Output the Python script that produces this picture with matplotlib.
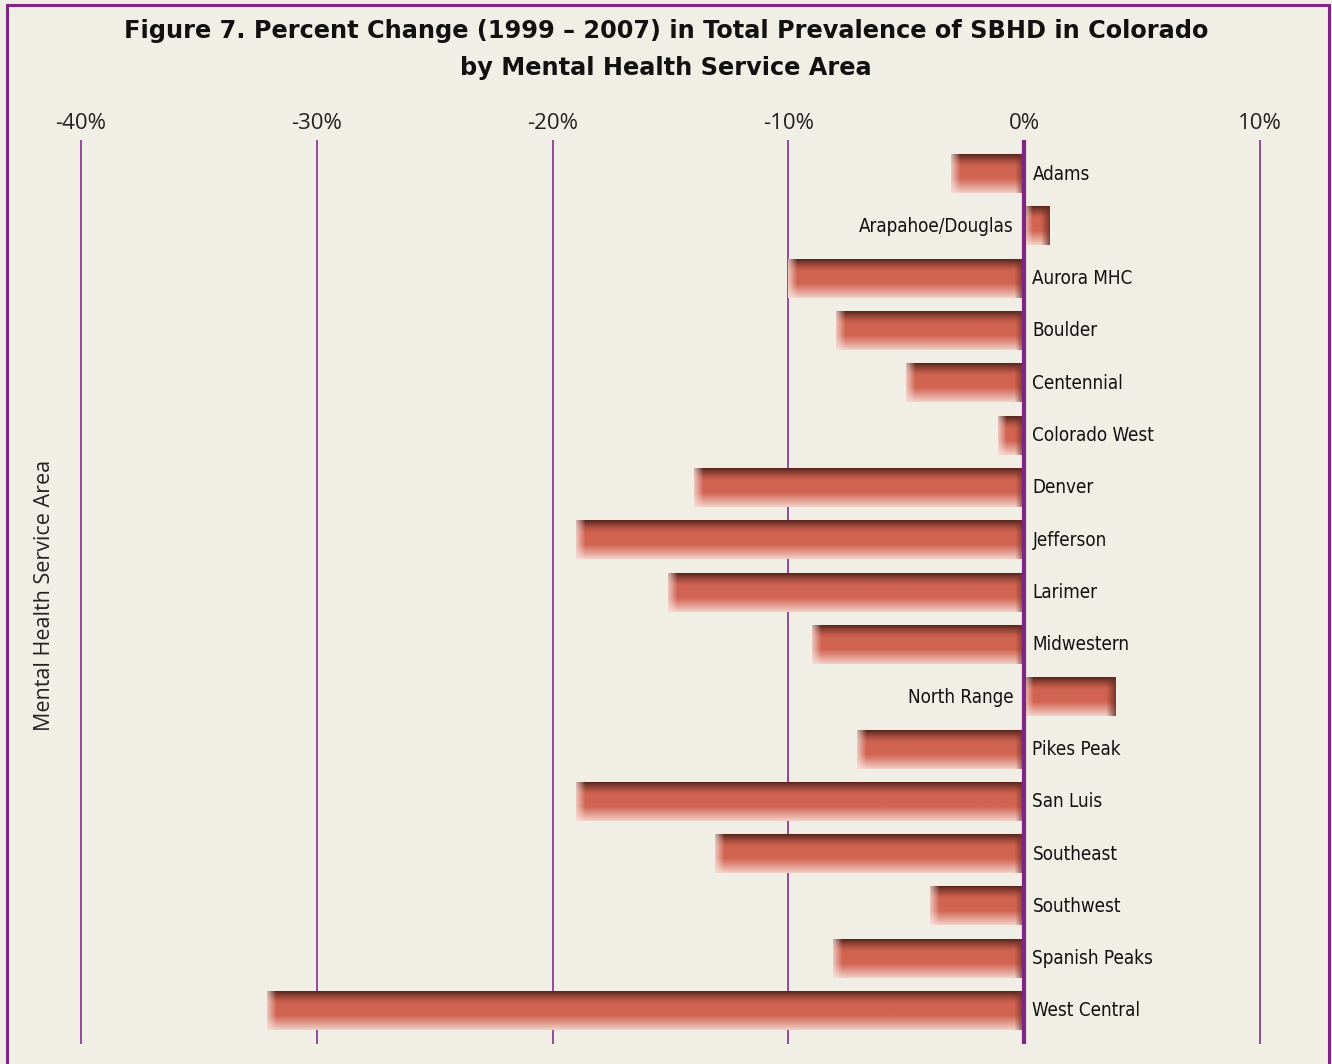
import numpy as np
import matplotlib
matplotlib.use("Agg")
import matplotlib.pyplot as plt
from matplotlib.patches import Rectangle
from matplotlib.colors import to_rgb

areas = ["Adams", "Arapahoe/Douglas", "Aurora MHC", "Boulder", "Centennial",
         "Colorado West", "Denver", "Jefferson", "Larimer", "Midwestern",
         "North Range", "Pikes Peak", "San Luis", "Southeast", "Southwest",
         "Spanish Peaks", "West Central"]
pct_change = [-3.1, 1.1, -10.0, -8.0, -5.0, -1.1, -14.0, -19.0, -15.1, -9.0,
              3.9, -7.1, -19.0, -13.1, -4.0, -8.1, -32.1]
tick_values = [-40, -30, -20, -10, 0, 10]
tick_labels = ["-40%", "-30%", "-20%", "-10%", "0%", "10%"]

BG = "#f1eee6"
PURPLE = "#7d2683"
GRID = "#8e3d92"

fig = plt.figure(figsize=(13.32, 10.64), dpi=100, facecolor=BG)
ax = fig.add_axes([40 / 1332, 1 - 1044 / 1064, 1260 / 1332, 904 / 1064])
ax.set_facecolor(BG)

px_per_unit = (1260 - 81) / 50.0
ax.set_xlim(-40 - (81 - 40) / px_per_unit, 10 + (1300 - 1260) / px_per_unit)
ax.set_ylim(16 + (1044 - 1011) / 52.3, -(174 - 140) / 52.3)

for s in ax.spines.values():
    s.set_visible(False)
ax.set_yticks([])
ax.xaxis.tick_top()
ax.set_xticks(tick_values)
ax.set_xticklabels(tick_labels, fontsize=16, color="#222222", family="Open Sans")
ax.tick_params(axis="x", length=0, pad=4)

for t in tick_values:
    if t == 0:
        continue
    ax.axvline(t, color=GRID, lw=1.3, zorder=1)


def bevel_image(ncols, nrows=40, edge=9):
    dark = np.array(to_rgb("#5a261e"))
    mid = np.array(to_rgb("#d16351"))
    light = np.array(to_rgb("#f2cfc6"))
    y = np.linspace(0, 1, nrows)[:, None]
    # vertical profile: dark top, red middle, pale bottom
    w_dark = np.clip(1 - y / 0.32, 0, 1) ** 1.4
    w_light = np.clip((y - 0.62) / 0.38, 0, 1) ** 1.1
    col = mid * (1 - w_dark - w_light)[..., None] + dark * w_dark[..., None] + light * w_light[..., None]
    img = np.repeat(col, ncols, axis=1)
    x = np.arange(ncols)[None, :]
    e = min(edge, max(ncols // 3, 1))
    wl = np.clip(1 - x / e, 0, 1) * 0.75
    wr = np.clip((x - (ncols - 1 - e)) / e, 0, 1) * 0.8
    pale = np.array(to_rgb("#f6e2dc"))
    deep = np.array(to_rgb("#6a2e25"))
    img = img * (1 - wl[..., None]) + pale * wl[..., None]
    img = img * (1 - wr[..., None]) + deep * wr[..., None]
    return np.clip(img, 0, 1)


label_font = dict(fontsize=13.5, family="DejaVu Sans", fontstretch="condensed",
                  color="#111111")
bar_h = 0.73
for i, (name, v) in enumerate(zip(areas, pct_change)):
    x0, x1 = min(0, v), max(0, v)
    ncols = max(int(abs(v) * px_per_unit), 4)
    ax.imshow(bevel_image(ncols), extent=(x0, x1, i + bar_h / 2, i - bar_h / 2),
              aspect="auto", interpolation="bilinear", zorder=2)
    if v < 0:
        ax.text(0.35, i, name, ha="left", va="center", **label_font)
    else:
        ax.text(-0.45, i, name, ha="right", va="center", **label_font)

ax.axvline(0, color=PURPLE, lw=3, zorder=3)
ax.set_aspect("auto")

fig.text(0.5, 1 - 31 / 1064,
         "Figure 7. Percent Change (1999 \u2013 2007) in Total Prevalence of SBHD in Colorado",
         ha="center", va="center", fontsize=17.3, fontweight="bold", color="#111111")
fig.text(0.5, 1 - 68 / 1064, "by Mental Health Service Area",
         ha="center", va="center", fontsize=17.3, fontweight="bold", color="#111111")
fig.text(45 / 1332, 1 - 595 / 1064, "Mental Health Service Area", rotation=90,
         ha="center", va="center", fontsize=15.5, family="Open Sans", color="#222222")

fig.patches.append(Rectangle((7 / 1332, -0.01), 1322 / 1332, 1.01 - 5 / 1064,
                             transform=fig.transFigure, fill=False,
                             edgecolor=PURPLE, lw=2.2))

fig.savefig("out.png", dpi=100, facecolor=BG)
